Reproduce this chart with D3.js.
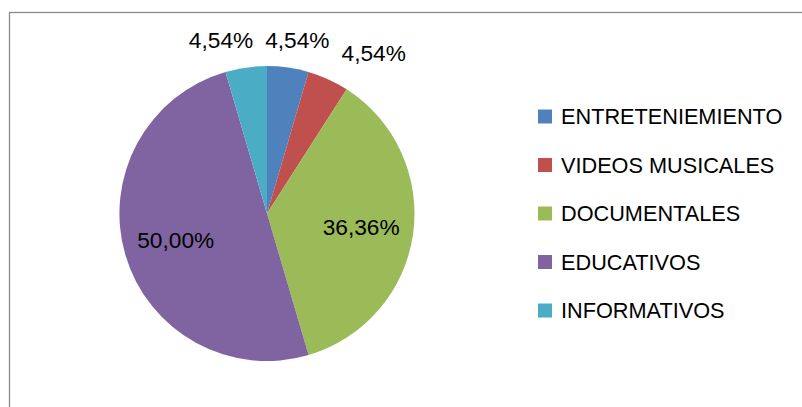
<!DOCTYPE html>
<html>
<head>
<meta charset="utf-8">
<script src="https://cdn.jsdelivr.net/npm/d3@7"></script>
<style>
  body { margin: 0; background: #fff; }
  text { font-family: "Liberation Sans", Arial, sans-serif; fill: #000; }
</style>
</head>
<body>
<div id="chart"></div>
<script>
const categories = ["ENTRETENIEMIENTO", "VIDEOS MUSICALES", "DOCUMENTALES", "EDUCATIVOS", "INFORMATIVOS"];
const values = [4.54, 4.54, 36.36, 50.00, 4.54];
const labels = ["4,54%", "4,54%", "36,36%", "50,00%", "4,54%"];
const colors = ["#4F81BD", "#C0504D", "#9BBB59", "#8064A2", "#4BACC6"];

const width = 802, height = 407;
const cx = 267, cy = 213.5, radius = 147.5;

const svg = d3.select("#chart").append("svg")
    .attr("width", width)
    .attr("height", height);

// chart frame (runs off the right and bottom edge)
svg.append("rect")
    .attr("x", 9.5).attr("y", 12.5)
    .attr("width", width + 20).attr("height", height + 20)
    .attr("fill", "none")
    .attr("stroke", "#8a8a8a")
    .attr("stroke-width", 1.3);

const data = categories.map((c, i) => ({ cat: c, value: values[i], label: labels[i], color: colors[i] }));

const pie = d3.pie().sort(null).value(d => d.value);
const arcs = pie(data);

const arc = d3.arc().innerRadius(0).outerRadius(radius);
const arcIn = d3.arc().innerRadius(radius * 0.645).outerRadius(radius * 0.645);

const plot = svg.append("g").attr("transform", `translate(${cx},${cy})`);

plot.selectAll("path")
    .data(arcs)
    .enter()
    .append("path")
    .attr("d", arc)
    .attr("fill", d => d.data.color);

const fontSize = 22.7;

// big slices: label inside
plot.selectAll("text.inside")
    .data(arcs.filter(d => d.endAngle - d.startAngle > 0.5))
    .enter()
    .append("text")
    .attr("class", "inside")
    .attr("transform", d => `translate(${arcIn.centroid(d)})`)
    .attr("text-anchor", "middle")
    .attr("dy", "0.35em")
    .style("font-size", fontSize + "px")
    .text(d => d.data.label);

// small slices: label outside, nearest corner placed just past the rim
const small = arcs.filter(d => d.endAngle - d.startAngle <= 0.5);
const outR = radius + 20;
const outside = plot.selectAll("text.outside")
    .data(small)
    .enter()
    .append("text")
    .attr("class", "outside")
    .style("font-size", fontSize + "px")
    .text(d => d.data.label);

const boxes = [];
outside.each(function (d) {
    const a = (d.startAngle + d.endAngle) / 2;
    const px = Math.sin(a) * outR, py = -Math.cos(a) * outR;
    const w = this.getComputedTextLength(), h = 17;
    const right = Math.sin(a) >= 0;
    boxes.push({ node: this, x0: right ? px + 5 : px - w + 12, w: w, y1: py, h: h });
});
// push overlapping labels leftwards, from right to left
boxes.sort((p, q) => q.x0 - p.x0);
for (let i = 1; i < boxes.length; i++) {
    const prev = boxes[i - 1], b = boxes[i];
    const yOverlap = b.y1 > prev.y1 - prev.h && prev.y1 > b.y1 - b.h;
    if (yOverlap && b.x0 + b.w + 12 > prev.x0) b.x0 = prev.x0 - 12 - b.w;
}
boxes.forEach(b => d3.select(b.node).attr("x", b.x0).attr("y", b.y1));

// legend
const legend = svg.append("g").attr("transform", "translate(538,116.5)");
const rows = legend.selectAll("g")
    .data(data)
    .enter()
    .append("g")
    .attr("transform", (d, i) => `translate(0,${i * 48.5})`);

rows.append("rect")
    .attr("x", 0).attr("y", -7)
    .attr("width", 14).attr("height", 14)
    .attr("fill", d => d.color);

rows.append("text")
    .attr("x", 23)
    .attr("dy", "0.36em")
    .style("font-size", "21.7px")
    .text(d => d.cat);
</script>
</body>
</html>
